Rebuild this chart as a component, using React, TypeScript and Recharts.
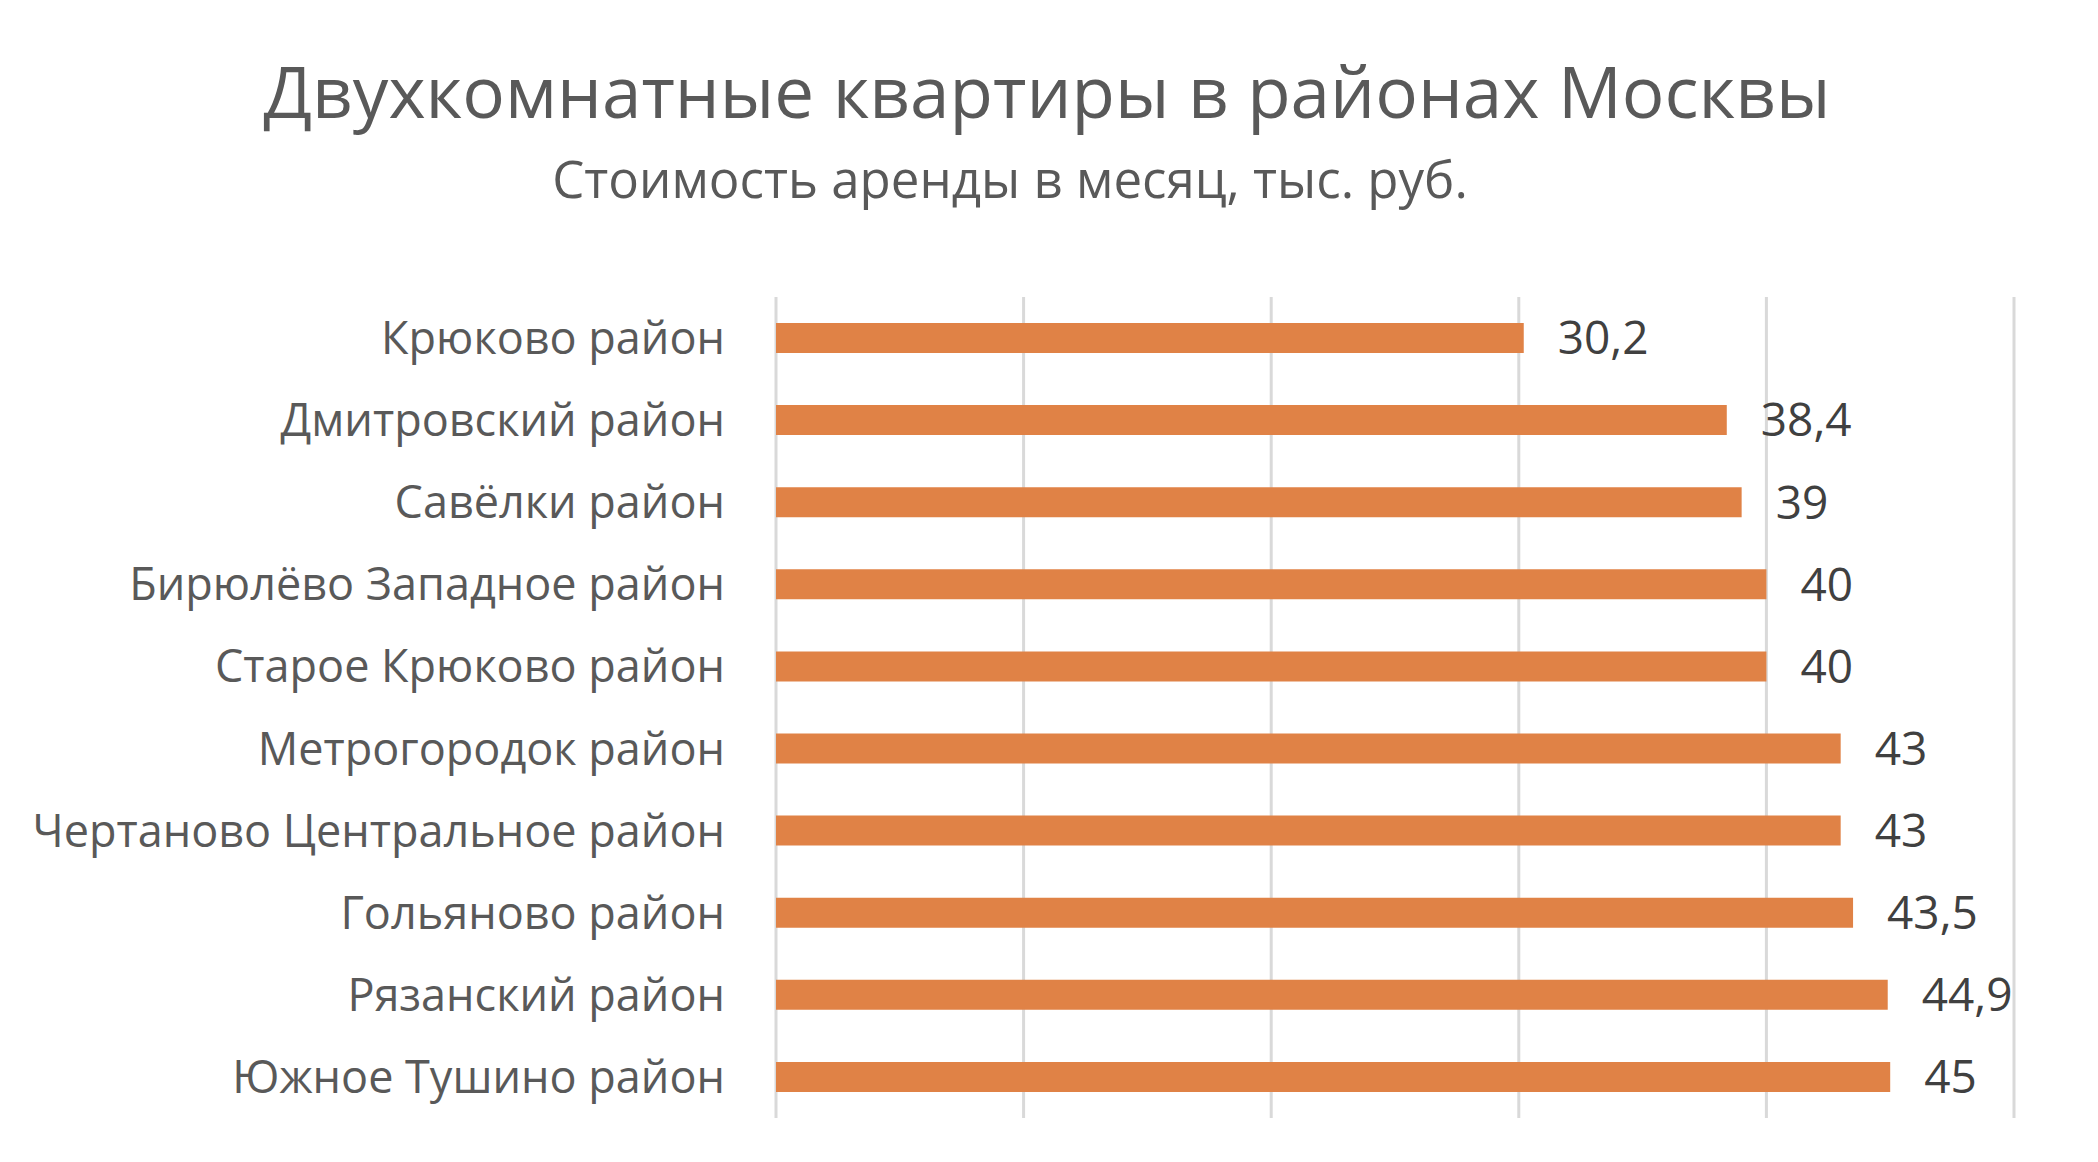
import React from 'react';
import { BarChart, Bar, XAxis, YAxis, CartesianGrid, LabelList } from 'recharts';

const districts = [
  'Крюково район',
  'Дмитровский район',
  'Савёлки район',
  'Бирюлёво Западное район',
  'Старое Крюково район',
  'Метрогородок район',
  'Чертаново Центральное район',
  'Гольяново район',
  'Рязанский район',
  'Южное Тушино район',
];

const rent = [30.2, 38.4, 39, 40, 40, 43, 43, 43.5, 44.9, 45];

const xTicks = [0, 10, 20, 30, 40, 50];

const title = 'Двухкомнатные квартиры в районах Москвы';
const subtitle = 'Стоимость аренды в месяц, тыс. руб.';

const data = districts.map((name, i) => ({ name, value: rent[i] }));

const FONT = '"Open Sans", "Noto Sans", sans-serif';

export default function App() {
  return (
    <div style={{ position: 'absolute', left: 0, top: 0, width: 2098, height: 1162, background: '#fff' }}>
      <svg width={2098} height={260} style={{ position: 'absolute', left: 0, top: 0 }}>
        <text x={1047} y={118} textAnchor="middle" fontFamily={FONT} fontSize={71} fill="#595959">
          {title}
        </text>
        <text x={1010} y={198} textAnchor="middle" fontFamily={FONT} fontSize={51} fill="#595959">
          {subtitle}
        </text>
      </svg>
      <div style={{ position: 'absolute', left: 0, top: 0 }}>
        <BarChart
          width={2098}
          height={1162}
          data={data}
          layout="vertical"
          margin={{ top: 297, right: 84, bottom: 44, left: 0 }}
        >
          <CartesianGrid horizontal={false} stroke="#d9d9d9" strokeWidth={3} />
          <XAxis type="number" domain={[0, 50]} ticks={xTicks} hide />
          <YAxis
            type="category"
            dataKey="name"
            width={776}
            axisLine={false}
            tickLine={false}
            tickSize={0}
            tickMargin={51}
            tick={{ fill: '#595959', fontSize: 45, fontFamily: FONT }}
            interval={0}
          />
          <Bar dataKey="value" fill="#e08246" barSize={30} isAnimationActive={false}>
            <LabelList
              dataKey="value"
              position="right"
              offset={34}
              fill="#404040"
              fontSize={46}
              fontFamily={FONT}
              formatter={(v: any) => String(v).replace('.', ',')}
            />
          </Bar>
        </BarChart>
      </div>
    </div>
  );
}
